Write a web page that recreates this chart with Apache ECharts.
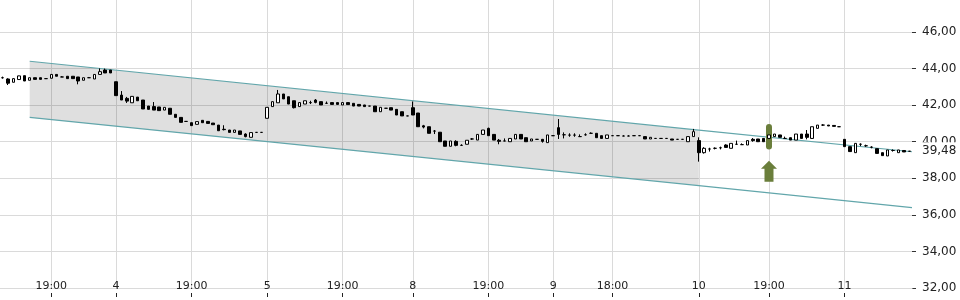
<!DOCTYPE html>
<html><head><meta charset="utf-8">
<script src="https://cdn.jsdelivr.net/npm/echarts@6/dist/echarts.min.js"></script>
<style>html,body{margin:0;padding:0;background:#fff}#c{width:960px;height:300px}</style>
</head><body><div id="c"></div>
<script>
const opens = [
43.50,43.43,43.25,43.40,43.61,43.36,43.50,43.50,43.45,43.47,
43.68,43.54,43.58,43.58,43.54,43.36,43.50,43.43,43.68,43.92,
43.92,43.28,42.55,42.37,42.13,42.44,42.28,41.95,41.92,41.90,
41.73,41.83,41.50,41.33,41.11,41.04,40.95,41.17,41.11,41.02,
40.91,40.68,40.64,40.51,40.59,40.42,40.24,40.51,40.51,41.28,
41.92,42.13,42.61,42.46,42.24,41.92,42.06,42.14,42.28,42.19,
42.10,42.14,42.14,42.01,42.14,42.10,42.04,42.01,41.95,41.95,
41.64,41.83,41.86,41.77,41.64,41.41,41.86,41.57,40.87,40.82,
40.58,40.52,40.04,39.75,40.02,39.80,39.86,40.15,40.09,40.40,
40.73,40.40,40.08,40.04,40.00,40.15,40.40,40.22,40.04,40.13,
40.13,39.95,40.33,40.77,40.38,40.36,40.36,40.28,40.38,40.46,
40.46,40.33,40.18,40.33,40.33,40.31,40.31,40.33,40.33,40.28,
40.15,40.18,40.18,40.18,40.15,40.13,40.13,40.00,40.28,40.06,
39.40,39.60,39.64,39.67,39.82,39.64,39.86,39.84,39.82,40.13,
40.15,40.18,40.18,40.28,40.37,40.18,40.22,40.09,40.42,40.42,
40.18,40.73,40.91,40.91,40.89,40.82,40.13,39.73,39.40,39.86,
39.78,39.70,39.62,39.40,39.22,39.52,39.40,39.52,39.48];
const closes = [
43.50,43.20,43.45,43.60,43.32,43.50,43.41,43.41,43.45,43.68,
43.58,43.54,43.45,43.45,43.32,43.50,43.50,43.68,43.83,43.76,
43.76,42.52,42.28,42.22,42.48,42.24,41.79,41.77,41.73,41.70,
41.88,41.50,41.33,41.06,41.11,40.88,41.10,41.04,41.00,40.93,
40.60,40.66,40.51,40.64,40.40,40.28,40.50,40.51,40.51,41.88,
42.19,42.61,42.34,42.06,41.86,42.14,42.24,42.14,42.15,42.01,
42.10,42.04,42.04,42.14,42.03,41.95,41.95,41.92,41.95,41.64,
41.88,41.83,41.73,41.46,41.41,41.41,41.46,40.82,40.80,40.46,
40.58,40.00,39.75,40.04,39.80,39.80,40.08,40.15,40.40,40.64,
40.33,40.09,40.02,40.04,40.18,40.40,40.15,40.00,40.15,40.13,
40.02,40.37,40.33,40.40,40.38,40.36,40.36,40.28,40.38,40.46,
40.22,40.18,40.37,40.33,40.33,40.31,40.31,40.33,40.33,40.15,
40.24,40.18,40.18,40.18,40.09,40.13,40.13,40.28,40.55,39.40,
39.64,39.60,39.64,39.67,39.69,39.91,39.86,39.84,40.06,40.06,
40.00,40.00,40.37,40.42,40.24,40.18,40.09,40.42,40.18,40.24,
40.82,40.91,40.91,40.86,40.84,40.82,39.73,39.46,39.91,39.86,
39.78,39.70,39.36,39.24,39.55,39.52,39.55,39.44,39.48];
const lows = [
43.45,43.10,43.25,43.39,43.32,43.36,43.41,43.41,43.45,43.47,
43.58,43.54,43.45,43.45,43.14,43.36,43.50,43.43,43.68,43.76,
43.76,42.52,42.28,42.12,42.13,42.24,41.79,41.77,41.73,41.70,
41.73,41.50,41.33,41.06,41.11,40.88,40.95,41.04,41.00,40.93,
40.60,40.62,40.51,40.51,40.40,40.24,40.24,40.51,40.51,41.28,
41.92,42.13,42.34,42.06,41.82,41.92,42.06,42.06,42.10,42.01,
42.10,42.04,42.04,42.01,42.03,41.95,41.95,41.92,41.95,41.64,
41.64,41.83,41.73,41.46,41.41,41.41,41.46,40.82,40.73,40.46,
40.42,40.00,39.75,39.75,39.75,39.80,39.86,40.10,40.09,40.40,
40.33,40.09,39.86,40.04,40.00,40.15,40.15,40.00,40.04,40.13,
39.95,39.95,40.33,40.15,40.18,40.27,40.27,40.28,40.33,40.46,
40.22,40.18,40.18,40.33,40.33,40.31,40.31,40.33,40.33,40.15,
40.15,40.18,40.18,40.18,40.09,40.13,40.13,40.00,40.28,38.91,
39.35,39.46,39.58,39.58,39.69,39.64,39.86,39.84,39.82,40.00,
40.00,40.00,40.18,40.28,40.24,40.18,40.09,40.09,40.18,40.13,
40.18,40.73,40.86,40.86,40.84,40.82,39.73,39.46,39.40,39.76,
39.72,39.64,39.36,39.24,39.22,39.46,39.40,39.44,39.48];
const highs = [
43.56,43.47,43.47,43.61,43.61,43.50,43.50,43.50,43.45,43.68,
43.68,43.58,43.58,43.58,43.54,43.50,43.54,43.68,44.01,44.00,
43.92,43.28,42.77,42.45,42.48,42.44,42.28,41.95,42.17,41.90,
41.88,41.83,41.50,41.33,41.13,41.04,41.10,41.17,41.11,41.02,
40.91,40.90,40.64,40.64,40.59,40.46,40.50,40.51,40.51,41.88,
42.19,42.83,42.61,42.46,42.24,42.14,42.24,42.24,42.33,42.19,
42.20,42.14,42.14,42.14,42.14,42.10,42.04,42.01,41.95,41.95,
41.88,41.83,41.86,41.77,41.64,41.41,42.20,41.57,40.92,40.82,
40.64,40.52,40.04,40.04,40.08,39.86,40.08,40.20,40.40,40.64,
40.77,40.40,40.15,40.18,40.18,40.40,40.40,40.22,40.15,40.13,
40.15,40.37,40.33,41.24,40.51,40.46,40.46,40.40,40.46,40.51,
40.46,40.33,40.37,40.33,40.33,40.35,40.35,40.33,40.33,40.28,
40.24,40.18,40.18,40.18,40.15,40.13,40.13,40.28,40.70,40.24,
39.70,39.67,39.69,39.73,39.86,39.91,40.06,39.91,40.06,40.20,
40.15,40.18,40.37,40.42,40.37,40.28,40.22,40.42,40.42,40.64,
40.82,40.91,40.96,40.91,40.89,40.82,40.13,39.73,39.91,39.91,
39.84,39.75,39.62,39.40,39.55,39.58,39.55,39.52,39.48];

const tickIdx  = [9, 21, 35, 49, 63, 76, 90, 102, 113, 129, 142, 156];
const tickText = ['19:00','4','19:00','5','19:00','8','19:00','9','18:00','10','19:00','11'];
const yTicks = [32, 34, 36, 38, 40, 42, 44, 46];
const lastPrice = 39.48;

const channelX     = [5, 129, 168.5];
const channelUpper = [44.40, 40.63, 39.45];
const channelLower = [41.33, 37.60, 36.40];

const signalIdx = 142;
const signalBarLow = 39.58, signalBarHigh = 40.97;
const arrowValue = 38.39;

const N = opens.length;
const cats = opens.map((_, i) => String(i));
const candleData = opens.map((o, i) => [o, closes[i], lows[i], highs[i]]);
const fmt = v => v.toFixed(2).replace('.', ',');
const FONT = 'DejaVu Sans';
const GRID_C = '#dadada';
const TEAL = '#62a6ab';
const OLIVE = '#6a7e3b';
const Y_MIN = 32, Y_MAX = 47.75;

const chart = echarts.init(document.getElementById('c'), null, {renderer: 'canvas'});
chart.setOption({
  animation: false,
  backgroundColor: '#fff',
  grid: {left: 0, right: 48, top: 0, bottom: 12, containLabel: false, outerBoundsMode: 'none'},
  xAxis: [
    {type: 'category', data: cats, boundaryGap: true, show: false},
    {type: 'value', min: -0.5, max: N - 0.5, position: 'bottom', z: 1,
      axisLine: {show: true, onZero: false, lineStyle: {color: GRID_C, width: 1}},
      axisTick: {show: false, customValues: tickIdx},
      axisLabel: {show: true, customValues: tickIdx, margin: -7, fontSize: 11, fontFamily: FONT, color: '#222',
        formatter: v => { const k = tickIdx.indexOf(Math.round(v)); return k >= 0 ? tickText[k] : ''; }},
      splitLine: {show: true, lineStyle: {color: GRID_C, width: 1}}},
    {type: 'value', min: -0.5, max: N - 0.5, position: 'bottom', offset: 5, z: 1,
      axisLine: {show: false, onZero: false},
      axisTick: {show: true, length: 4, customValues: tickIdx, lineStyle: {color: '#222', width: 1}},
      axisLabel: {show: false, customValues: tickIdx},
      splitLine: {show: false}}
  ],
  yAxis: [
    {type: 'value', position: 'right', min: Y_MIN, max: Y_MAX, z: 0,
      axisLine: {show: false, onZero: false},
      axisTick: {show: true, length: 4, customValues: yTicks, lineStyle: {color: '#333', width: 1}},
      axisLabel: {customValues: yTicks, margin: 10, fontSize: 12, fontFamily: FONT, color: '#222', formatter: v => fmt(v)},
      splitLine: {show: true, lineStyle: {color: GRID_C, width: 1}}},
    {type: 'value', position: 'right', min: Y_MIN, max: Y_MAX, z: 10,
      axisLine: {show: false, onZero: false},
      axisTick: {show: false, customValues: [lastPrice]},
      axisLabel: {customValues: [lastPrice], margin: 10, fontSize: 12, fontFamily: FONT, color: '#222',
        backgroundColor: '#fff', padding: [1, 4, 5, 0], formatter: v => fmt(v)},
      splitLine: {show: false}}
  ],
  series: [
    {type: 'custom', xAxisIndex: 1, yAxisIndex: 0, z: 1, silent: true,
      data: [[channelX[0], channelLower[0], channelUpper[0], channelX[1], channelLower[1], channelUpper[1]]],
      encode: {x: [0, 3], y: [1, 2, 4, 5]},
      renderItem: (params, api) => {
        const a = api.coord([api.value(0), api.value(1)]);
        const b = api.coord([api.value(0), api.value(2)]);
        const c = api.coord([api.value(3), api.value(5)]);
        const d = api.coord([api.value(3), api.value(4)]);
        return {type: 'polygon', shape: {points: [a, b, c, d]}, style: {fill: 'rgba(0,0,0,0.125)'}};
      }},
    {type: 'line', xAxisIndex: 1, yAxisIndex: 0, z: 3, silent: true, symbol: 'none',
      data: channelX.map((x, i) => [x, channelUpper[i]]), lineStyle: {color: TEAL, width: 1.2}},
    {type: 'line', xAxisIndex: 1, yAxisIndex: 0, z: 3, silent: true, symbol: 'none',
      data: channelX.map((x, i) => [x, channelLower[i]]), lineStyle: {color: TEAL, width: 1.2}},
    {type: 'custom', xAxisIndex: 1, yAxisIndex: 0, z: 4, silent: true,
      data: [[signalIdx, signalBarLow, signalBarHigh]],
      encode: {x: 0, y: [1, 2]},
      renderItem: (params, api) => {
        const lo = api.coord([api.value(0), api.value(1)]);
        const hi = api.coord([api.value(0), api.value(2)]);
        return {type: 'rect', shape: {x: lo[0] - 3, y: hi[1], width: 6, height: lo[1] - hi[1], r: 3}, style: {fill: OLIVE}};
      }},
    {type: 'candlestick', xAxisIndex: 0, yAxisIndex: 0, z: 5, barWidth: 3,
      data: candleData,
      itemStyle: {color: '#fff', color0: '#000', borderColor: '#000', borderColor0: '#000', borderWidth: 1}},
    {type: 'scatter', xAxisIndex: 1, yAxisIndex: 0, z: 6, silent: true,
      data: [[signalIdx, arrowValue]],
      symbol: 'path://M8,0 L16,8 L12.5,8 L12.5,21 L3.5,21 L3.5,8 L0,8 Z',
      symbolSize: [16, 21], symbolKeepAspect: false,
      itemStyle: {color: OLIVE, opacity: 1}}
  ]
});
</script></body></html>
